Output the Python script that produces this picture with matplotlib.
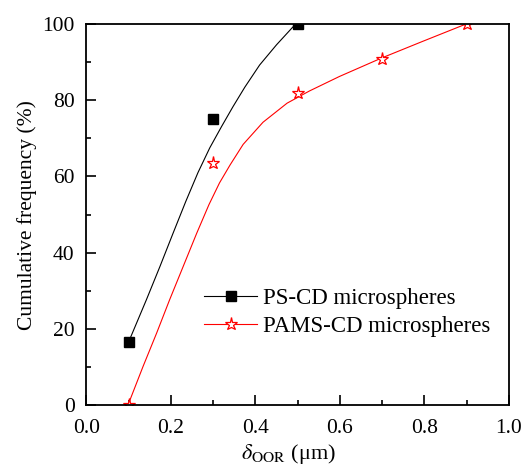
import numpy as np
import matplotlib.pyplot as plt

plt.rcParams['font.family'] = ['Liberation Serif', 'DejaVu Serif']
plt.rcParams['mathtext.fontset'] = 'stix'

# measured points
x_ps = [0.1, 0.3, 0.5]
y_ps = [16.7, 75.0, 100.0]
x_pams = [0.1, 0.3, 0.5, 0.7, 0.9]
y_pams = [0.0, 63.6, 81.8, 90.9, 100.0]

# fitted curves
xc_ps = [0.1, 0.107, 0.142, 0.174, 0.205, 0.235, 0.264, 0.292, 0.320, 0.347,
         0.375, 0.410, 0.450, 0.489, 0.5]
yc_ps = [16.7, 18.5, 27.7, 36.4, 45.1, 53.4, 61.0, 67.5, 73.1, 78.3,
         83.4, 89.2, 94.5, 99.2, 100.0]
xc_pams = [0.1, 0.103, 0.134, 0.166, 0.197, 0.229, 0.261, 0.290, 0.315, 0.340,
           0.371, 0.418, 0.475, 0.528, 0.599, 0.698, 0.796, 0.9]
yc_pams = [0.0, 1.4, 10.2, 18.9, 27.7, 36.4, 45.1, 52.6, 58.3, 63.0,
           68.4, 74.2, 79.2, 82.4, 86.2, 91.0, 95.4, 100.0]

fig = plt.figure(figsize=(5.24, 4.67), dpi=100)
ax = fig.add_axes([0.165, 0.132, 0.806, 0.817])

ax.plot(xc_ps, yc_ps, color='black', lw=0.8)
ax.plot(xc_pams, yc_pams, color='red', lw=0.8)
ax.plot(x_ps, y_ps, 's', color='black', ms=6.5)
ax.plot(x_pams, y_pams, '*', mfc='white', mec='red', mew=0.9, ms=9.5)

# legend entries
h1, = ax.plot([], [], '-s', color='black', lw=0.8, ms=6.5)
h2, = ax.plot([], [], '-*', color='red', mfc='white', mec='red', mew=0.9, lw=0.8, ms=9.5)
ax.legend([h1, h2], ['PS-CD microspheres', 'PAMS-CD microspheres'],
          loc='lower right', bbox_to_anchor=(1.005, 0.125), frameon=False,
          fontsize=16.5, handlelength=2.3, handletextpad=0.25, labelspacing=0.32)

ax.set_xlim(0, 1.0)
ax.set_ylim(0, 100)
ax.set_xticks(np.arange(0, 1.01, 0.2))
ax.set_xticks(np.arange(0.1, 1.0, 0.2), minor=True)
ax.set_yticks(np.arange(0, 101, 20))
ax.set_yticks(np.arange(10, 100, 20), minor=True)
ax.set_xticklabels(['0.0', '0.2', '0.4', '0.6', '0.8', '1.0'])
ax.tick_params(which='both', direction='in', top=False, right=False, labelsize=15.5, width=1.2)
ax.tick_params(which='major', length=7)
ax.tick_params(which='minor', length=3.6)
ax.tick_params(axis='x', which='major', pad=10)
ax.tick_params(axis='y', which='major', pad=8.5)
for s in ax.spines.values():
    s.set_linewidth(1.3)

ax.set_ylabel('Cumulative frequency (%)', fontsize=15.5, labelpad=4)
ax.set_xlabel(r'$\delta_{\mathrm{OOR}}$ (μm)', fontsize=16)
ax.xaxis.set_label_coords(0.478, -0.095)

fig.savefig('out.png', dpi=100)
